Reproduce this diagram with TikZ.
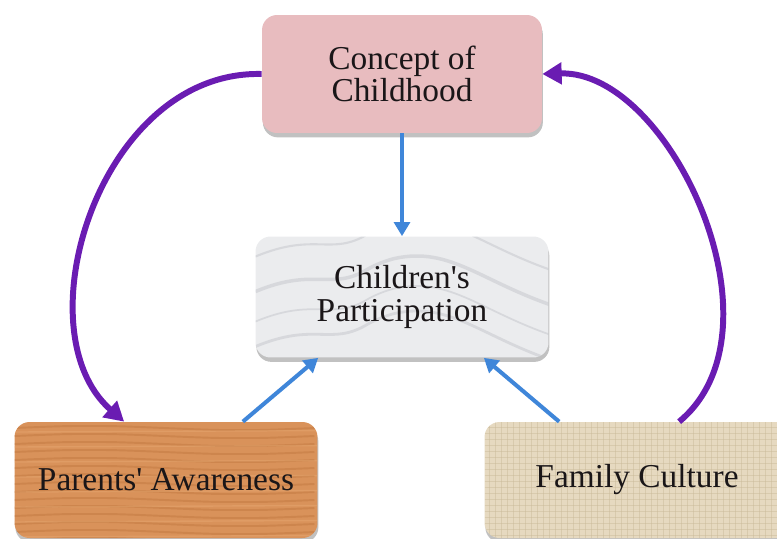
\documentclass[tikz,border=0pt]{standalone}
\usepackage{fontspec}
\setmainfont{Liberation Serif}
\usetikzlibrary{arrows.meta,shadows}

\definecolor{textdark}{HTML}{1A1618}
\definecolor{pinkfill}{HTML}{E8BCBF}
\definecolor{marblefill}{HTML}{EBECEE}
\definecolor{marblevein}{HTML}{A9ADB5}
\definecolor{woodfill}{HTML}{D9925A}
\definecolor{woodgrain}{HTML}{B0652D}
\definecolor{woodlight}{HTML}{EBB07A}
\definecolor{linenfill}{HTML}{E6D9C0}
\definecolor{linenline}{HTML}{C9B897}
\definecolor{linkblue}{HTML}{3F86D9}
\definecolor{linkpurple}{HTML}{6A1CB2}

\tikzset{
  box/.style={rounded corners=0.3cm, align=center, text=textdark,
    font=\fontsize{19}{18.5}\selectfont,
    drop shadow={shadow xshift=0.5pt, shadow yshift=-2.5pt, opacity=0.35, fill=black!70}},
  pinkbox/.style={box, fill=pinkfill},
  marblebox/.style={box, fill=marblefill,
    path picture={
      \foreach \k/\w in {0.4/1.2pt,1.1/2pt,1.7/1pt,2.2/1.6pt}
        \draw[marblevein, opacity=.3, line width=\w]
          ([yshift=-\k cm]path picture bounding box.north west)
          .. controls +(1.2cm,0.5cm) and +(-1cm,-0.6cm) .. +(2.5cm,0.6cm)
          .. controls +(1.4cm,0.3cm) and +(-1.5cm,0.5cm) .. +(6cm,-0.3cm);
    }},
  woodbox/.style={box, fill=woodfill,
    path picture={
      \foreach \k in {0.12,0.28,...,2.4}
        \draw[woodgrain, opacity=.28, line width=1.1pt]
          ([yshift=-\k cm]path picture bounding box.north west)
          sin ++(1.5cm,0.04cm) cos ++(1.5cm,-0.04cm)
          sin ++(1.5cm,-0.04cm) cos ++(1.5cm,0.04cm);
      \foreach \k in {0.2,0.5,...,2.4}
        \draw[woodlight, opacity=.35, line width=0.8pt]
          ([yshift=-\k cm]path picture bounding box.north west)
          -- ++(6.2cm,0.03cm);
    }},
  linenbox/.style={box, fill=linenfill,
    path picture={
      \foreach \k in {0.1,0.22,...,6.2}
        \draw[linenline, opacity=.45, line width=0.5pt]
          ([xshift=\k cm]path picture bounding box.north west)
          -- ++(0,-2.5cm);
      \foreach \k in {0.1,0.22,...,2.4}
        \draw[linenline, opacity=.45, line width=0.5pt]
          ([yshift=-\k cm]path picture bounding box.north west)
          -- ++(6.2cm,0);
    }},
  bluelink/.style={draw=linkblue, line width=2.3pt,
    -{Triangle[length=8pt,width=9pt]}},
  purplelink/.style={draw=linkpurple, line width=3.4pt,
    -{Triangle[length=11pt,width=12pt]}}
}

\begin{document}
\begin{tikzpicture}[x=0.02cm,y=-0.02cm]
\useasboundingbox (0,0) rectangle (777,538);
\clip (0,0) rectangle (777,538);

% boxes
\node[pinkbox, minimum width=5.6cm, minimum height=2.36cm]
  (concept) at (402,74) {Concept of\\Childhood};
\node[marblebox, minimum width=5.86cm, minimum height=2.42cm]
  (particip) at (402,297) {Children\textquotesingle s\\Participation};
\node[woodbox, minimum width=6.06cm, minimum height=2.32cm]
  (parents) at (166,480) {Parents\textquotesingle{} Awareness};
\node[linenbox, minimum width=6.1cm, minimum height=2.32cm]
  (culture) at (637,480) {Family Culture};

% influences on participation
\draw[bluelink] (concept) -- (particip);
\draw[bluelink] ([xshift=-1.5cm]parents.north east)
  -- ([xshift=1.26cm]particip.south west);
\draw[bluelink] ([xshift=1.5cm]culture.north west)
  -- ([xshift=-1.3cm]particip.south east);

% outer loop
\draw[purplelink] (concept.west)
  .. controls (100,70) and (20,330) .. ([xshift=2.2cm]parents.north west);
\draw[purplelink] ([xshift=3.9cm]culture.north west)
  .. controls (790,330) and (670,70) .. (concept.east);
\end{tikzpicture}
\end{document}
